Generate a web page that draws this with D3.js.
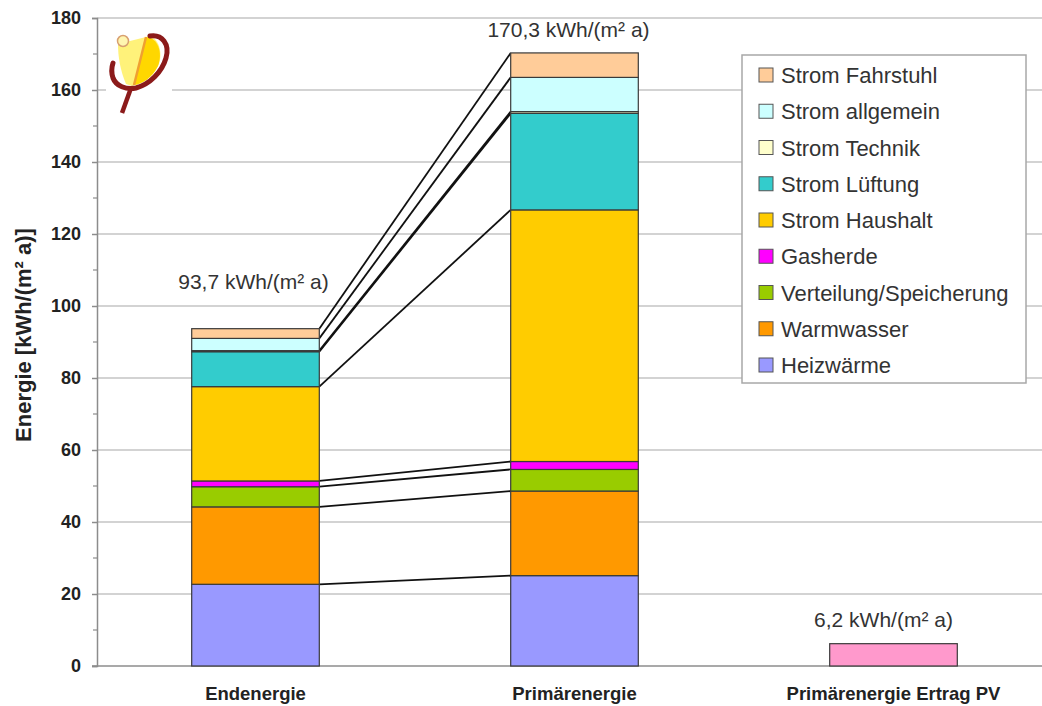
<!DOCTYPE html>
<html><head><meta charset="utf-8">
<script src="https://cdn.jsdelivr.net/npm/d3@7"></script>
<style>body{margin:0;background:#fff}svg{display:block}text{font-family:"Liberation Sans",Arial,sans-serif}</style>
</head><body>
<svg id="c" width="1042" height="706"></svg>
<script>
const categories = ["Endenergie", "Primärenergie", "Primärenergie Ertrag PV"];
const seriesNames = ["Heizwärme","Warmwasser","Verteilung/Speicherung","Gasherde","Strom Haushalt","Strom Lüftung","Strom Technik","Strom allgemein","Strom Fahrstuhl"];
const seriesColors = ["#9999FF","#FF9900","#99CC00","#FF00FF","#FFCC00","#33CCCC","#FFFFCC","#CCFFFF","#FFCC99"];
const endenergie    = [22.7, 21.5, 5.6, 1.6, 26.2, 9.7, 0.3, 3.4, 2.7];
const primaerenergie= [25.1, 23.5, 6.0, 2.2, 69.9, 26.8, 0.5, 9.5, 6.8];
const pvErtrag = 6.2;
const pvColor = "#FF99CC";
const totalLabels = ["93,7 kWh/(m² a)", "170,3 kWh/(m² a)", "6,2 kWh/(m² a)"];
const yTicks = [0,20,40,60,80,100,120,140,160,180];
const yMinorTicks = [10,30,50,70,90,110,130,150,170];

const svg = d3.select("#c");
const x = d3.scaleBand().domain(categories).range([96, 1053]).paddingInner(0.6).paddingOuter(0.3);
const y = d3.scaleLinear().domain([0, 180]).range([666, 18]);

// gridlines
svg.append("g").selectAll("line").data(yTicks.filter(d=>d>0)).join("line")
  .attr("x1", 97).attr("x2", 1053).attr("y1", d=>y(d)).attr("y2", d=>y(d))
  .attr("stroke", "#C4C4C4").attr("stroke-width", 1.5);

// axis
const yAxis = d3.axisLeft(y).tickValues(yTicks).tickSize(5).tickPadding(11).tickFormat(d3.format("d"));
const ga = svg.append("g").attr("transform","translate(97,0)").call(yAxis);
ga.select(".domain").attr("stroke","#8C8C8C").attr("stroke-width",1.5);
ga.selectAll(".tick line").attr("stroke","#8C8C8C").attr("stroke-width",1.5);
ga.selectAll(".tick text").attr("font-size",18).attr("font-weight","bold").attr("fill","#222")
  .attr("font-family","'Liberation Sans',Arial,sans-serif");
svg.append("g").selectAll("line").data(yMinorTicks).join("line")
  .attr("x1", 93).attr("x2", 97).attr("y1", d=>y(d)).attr("y2", d=>y(d))
  .attr("stroke","#8C8C8C").attr("stroke-width",1.2);
// x baseline
svg.append("line").attr("x1",92).attr("x2",1053).attr("y1",y(0)).attr("y2",y(0))
  .attr("stroke","#8C8C8C").attr("stroke-width",1.5);

// stacked data
function stackOf(vals){ let c=0; return vals.map((v,i)=>{const o={i, y0:c, y1:c+v}; c+=v; return o;}); }
const stacks = [stackOf(endenergie), stackOf(primaerenergie)];

// series lines between bar 1 and bar 2
const bw = x.bandwidth();
svg.append("g").selectAll("line").data(d3.range(seriesNames.length)).join("line")
  .attr("x1", x(categories[0]) + bw).attr("x2", x(categories[1]))
  .attr("y1", i=>y(stacks[0][i].y1)).attr("y2", i=>y(stacks[1][i].y1))
  .attr("stroke","#111").attr("stroke-width",1.8);

stacks.forEach((st, k)=>{
  svg.append("g").selectAll("rect").data(st).join("rect")
    .attr("x", x(categories[k])).attr("width", bw)
    .attr("y", d=>y(d.y1)).attr("height", d=>y(d.y0)-y(d.y1))
    .attr("fill", d=>seriesColors[d.i]).attr("stroke","#3A3A3A").attr("stroke-width",1.2);
});
svg.append("rect").attr("x", x(categories[2])).attr("width", bw)
  .attr("y", y(pvErtrag)).attr("height", y(0)-y(pvErtrag))
  .attr("fill", pvColor).attr("stroke","#3A3A3A").attr("stroke-width",1.2);

// total labels
const totals = [d3.sum(endenergie), d3.sum(primaerenergie), pvErtrag];
const labDy = [-40, -16, -17];
const labDx = [-2, -6, -10];
svg.append("g").selectAll("text").data(totalLabels).join("text")
  .attr("x",(d,i)=>x(categories[i])+bw/2+labDx[i]).attr("y",(d,i)=>y(totals[i])+labDy[i])
  .attr("text-anchor","middle").attr("font-size",21).attr("fill","#333").text(d=>d);

// category labels
svg.append("g").selectAll("text").data(categories).join("text")
  .attr("x", d=>x(d)+bw/2).attr("y", 700).attr("text-anchor","middle")
  .attr("font-size",18.5).attr("font-weight","bold").attr("fill","#222").text(d=>d);

// y title
svg.append("text").attr("transform","translate(31,335) rotate(-90)").attr("text-anchor","middle")
  .attr("font-size",22).attr("font-weight","bold").attr("fill","#222").text("Energie [kWh/(m² a)]");

// legend
const lg = svg.append("g");
lg.append("rect").attr("x",742).attr("y",55).attr("width",284).attr("height",328)
  .attr("fill","#fff").attr("stroke","#A8A8A8").attr("stroke-width",1.5);
const legOrder = d3.range(seriesNames.length).reverse();
const li = lg.selectAll("g").data(legOrder).join("g")
  .attr("transform",(d,j)=>`translate(0,${75 + j*36.25})`);
li.append("rect").attr("x",759).attr("y",-7).attr("width",14).attr("height",14)
  .attr("fill",d=>seriesColors[d]).attr("stroke","#555").attr("stroke-width",1);
li.append("text").attr("x",781).attr("y",8).attr("font-size",22).attr("fill","#333").text(d=>seriesNames[d]);

// logo
const logo = svg.append("g");
logo.append("rect").attr("x",106).attr("y",28).attr("width",66).attr("height",90).attr("fill","#fff");
logo.append("path").attr("d","M118,44 L150,36 C160,40 163,55 158,66 C152,78 142,84 132,86 L126,84 C120,70 118,56 118,44 Z").attr("fill","#FFF27A");
logo.append("path").attr("d","M146,37 C158,38 163,52 158,66 C152,78 142,84 134,85 Z").attr("fill","#FFD700");
logo.append("path").attr("d","M146,37 L134,85").attr("stroke","#F0A030").attr("stroke-width",2.5).attr("fill","none");
logo.append("circle").attr("cx",123).attr("cy",41).attr("r",5.5).attr("fill","#FFF6B0").attr("stroke","#D8A070").attr("stroke-width",1.5);
logo.append("path").attr("d","M150,36 C162,34 170,44 166,58 C162,72 150,84 136,88 C126,90 116,86 113,78 C111,72 112,66 113,63")
  .attr("fill","none").attr("stroke","#8B1A1A").attr("stroke-width",5).attr("stroke-linecap","round");
logo.append("path").attr("d","M131,88 L122,113").attr("fill","none").attr("stroke","#8B1A1A").attr("stroke-width",4.5);
</script>
</body></html>
